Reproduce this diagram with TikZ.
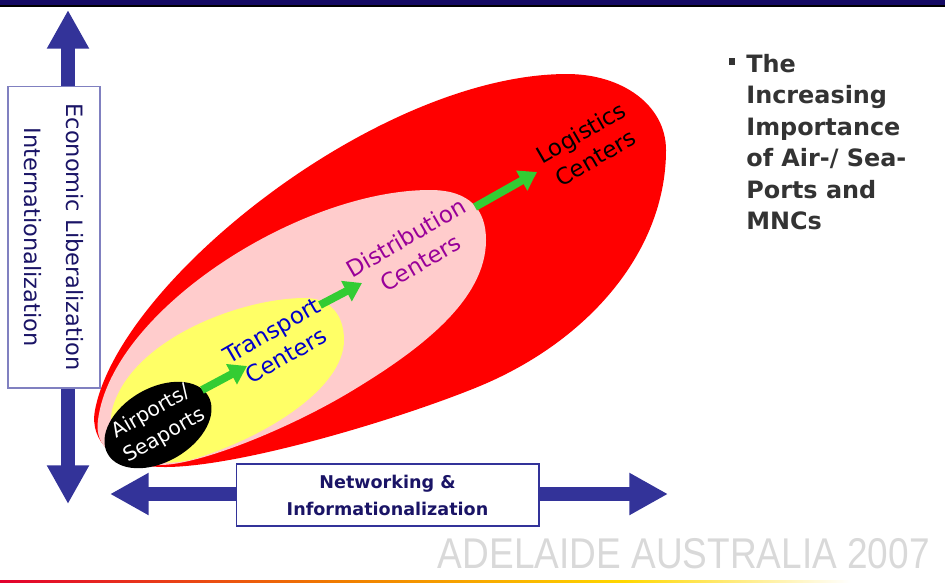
\documentclass[tikz,border=0pt]{standalone}
\usepackage{fontspec}
\setmainfont{DejaVu Sans}
\newfontfamily\footfont{Liberation Sans}
\usetikzlibrary{arrows.meta}

\definecolor{bandnavy}{HTML}{140A64}
\definecolor{axisblue}{HTML}{333399}
\definecolor{boxtext}{HTML}{1A1466}
\definecolor{boxline}{HTML}{8080C0}
\definecolor{outerred}{HTML}{FF0000}
\definecolor{pinkfill}{HTML}{FFCCCC}
\definecolor{yellowfill}{HTML}{FFFF66}
\definecolor{arrowgreen}{HTML}{33CC33}
\definecolor{transblue}{HTML}{0000CC}
\definecolor{distpurple}{HTML}{990099}
\definecolor{bullettext}{HTML}{333333}
\definecolor{footgray}{HTML}{D9D9D9}
\definecolor{lineRed}{HTML}{E2002E}
\definecolor{lineOrange}{HTML}{F07D00}
\definecolor{lineYellow}{HTML}{FFD700}

\pgfdeclarehorizontalshading{footline}{100bp}{color(0bp)=(lineRed); color(25bp)=(lineRed); color(43bp)=(lineOrange); color(58bp)=(lineYellow); color(70bp)=(white); color(100bp)=(white)}

\tikzset{
  axisarrow/.style={axisblue, line width=8pt,
    {Triangle[width=22.5pt,length=22pt]}-{Triangle[width=22.5pt,length=22pt]}},
  flowarrow/.style={arrowgreen, line width=4.5pt, -{Triangle[width=12.5pt,length=10pt]}},
  axisbox/.style={draw=#1, fill=white, line width=0.6pt, inner sep=0pt, align=center, text=boxtext},
  stage/.style={rotate=30, align=center, inner sep=0pt, font=\fontsize{13}{16.5}\selectfont},
}

\begin{document}
\begin{tikzpicture}[x={(0.02cm,0)}, y={(0,-0.02cm)}]
  \useasboundingbox (0,0) rectangle (945,583);

  % title band and foot line
  \fill[bandnavy] (0,0) rectangle (945,5);
  \fill[black] (0,5) rectangle (945,6.5);
  \shade[shading=footline] (0,580.5) rectangle (945,582.5);

  % nested regions
  \fill[outerred] (95,410) .. controls (120,280) and (380,74) .. (567,74)
    .. controls (622,74) and (666,105) .. (666,150)
    .. controls (666,250) and (590,340) .. (480,386)
    .. controls (400,419) and (240,467) .. (165,467)
    .. controls (115,467) and (89,442) .. (95,410) -- cycle;
  \fill[pinkfill] (98,420) .. controls (112,310) and (300,190) .. (430,190)
    .. controls (470,190) and (486,210) .. (486,240)
    .. controls (486,300) and (420,350) .. (350,392)
    .. controls (290,428) and (200,465) .. (160,465)
    .. controls (115,465) and (94,447) .. (98,420) -- cycle;
  \fill[yellowfill] (112,410) .. controls (130,340) and (240,298) .. (305,298)
    .. controls (330,298) and (344,315) .. (344,340)
    .. controls (344,390) and (260,440) .. (190,460)
    .. controls (140,472) and (105,440) .. (112,410) -- cycle;
  \fill[black, rotate around={30:(158,425)}] (158,425) ellipse [x radius=58, y radius=37];

  % stage labels
  \node[stage, text=white, font=\fontsize{11.5}{15.3}\selectfont] (air) at (158,424) {Airports/\\Seaports};
  \node[stage, text=transblue] (trans) at (279,343) {Transport\\Centers};
  \node[stage, text=distpurple] (dist) at (413,250) {Distribution\\Centers};
  \node[stage, text=black] (logi) at (588,145) {Logistics\\Centers};

  % growth arrows
  \coordinate (g1a) at (202,390); \coordinate (g1b) at (247,366);
  \coordinate (g2a) at (320,305); \coordinate (g2b) at (362,283);
  \coordinate (g3a) at (475,207); \coordinate (g3b) at (537,172);
  \draw[flowarrow] (g1a) -- (g1b);
  \draw[flowarrow] (g2a) -- (g2b);
  \draw[flowarrow] (g3a) -- (g3b);

  % axes
  \coordinate (ytop) at (68,10);   \coordinate (ybot) at (68,504);
  \coordinate (xleft) at (110,494); \coordinate (xright) at (668,494);
  \draw[axisarrow] (ytop) -- (ybot);
  \draw[axisarrow] (xleft) -- (xright);

  \node[axisbox=boxline, rotate=-90, minimum width=6.04cm, minimum height=1.84cm,
    font=\fontsize{12.8}{23.9}\selectfont] (econ) at (54,237)
    {Economic Liberalization\\Internationalization};
  \node[axisbox=axisblue, minimum width=6.06cm, minimum height=1.24cm,
    font=\bfseries\fontsize{10}{15.4}\selectfont] (net) at (387.5,495)
    {Networking \&\\Informationalization};

  % side note
  \node[fill=bullettext, minimum size=0.13cm, inner sep=0pt] (bullet) at (732,61.5) {};
  \node[anchor=north west, inner sep=0pt, align=left, text=bullettext,
    font=\bfseries\fontsize{13.6}{17.9}\selectfont] (ports) at (746,54)
    {The\\Increasing\\Importance\\of Air-/ Sea-\\Ports and\\MNCs};

  \node[anchor=base east, inner sep=0pt, xscale=0.86, text=footgray,
    font=\footfont\fontsize{24.5}{24.5}\selectfont] (venue) at (930,568)
    {ADELAIDE AUSTRALIA 2007};
\end{tikzpicture}
\end{document}
